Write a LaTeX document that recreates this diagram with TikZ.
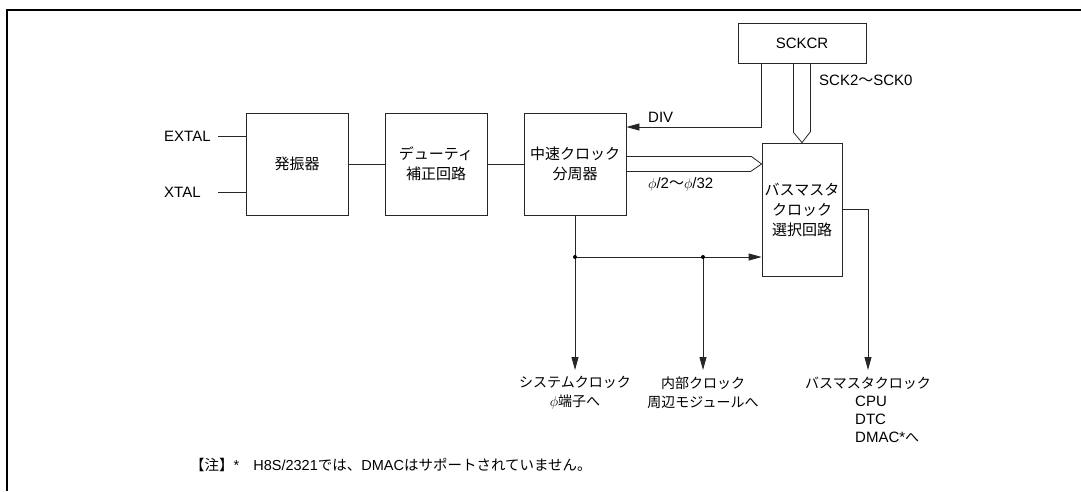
\documentclass[tikz,border=0pt]{standalone}
\usepackage{fontspec}
\setmainfont{Liberation Sans}
\newfontfamily\jp{Noto Sans CJK JP}
\usetikzlibrary{calc,arrows.meta}
\tikzset{
  blk/.style={draw=black!85, line width=0.8pt, inner sep=0pt, align=center,
    font=\jp\fontsize{15}{20}\selectfont},
  lbl/.style={inner sep=0pt, font=\fontsize{15}{18}\selectfont},
  jlbl/.style={inner sep=0pt, align=center, font=\jp\fontsize{14}{19}\selectfont},
  sig/.style={line width=0.8pt, black!85},
  arr/.style={sig, -{Triangle[length=13pt,width=7pt]}}
}

\begin{document}
\begin{tikzpicture}[x=1pt,y=-1pt]
    \useasboundingbox (0,0) rectangle (1081,491);
    \draw[line width=2pt] (7,491) -- (7,10) -- (1081,10);
    % blocks
    \node[blk, minimum width=102pt, minimum height=102pt] (osc) at (297,164) {発振器};
    \node[blk, minimum width=102pt, minimum height=102pt] (duty) at (436,164) {デューティ\\補正回路};
    \node[blk, minimum width=102pt, minimum height=102pt] (div) at (575,164) {中速クロック\\分周器};
    \node[blk, minimum width=128pt, minimum height=40pt, font=\fontsize{15}{18}\selectfont] (sckcr) at (802,43) {SCKCR};
    \node[blk, minimum width=80pt, minimum height=133pt] (bms) at (802,209.5) {バスマスタ\\クロック\\選択回路};
    % inputs
    \node[lbl, anchor=west] (extal) at (164,136) {EXTAL};
    \node[lbl, anchor=west] (xtal) at (164,192) {XTAL};
    \draw[sig] ([xshift=7pt]extal.east) -- (extal -| osc.west);
    \draw[sig] ([xshift=7pt]extal.east |- xtal) -- (xtal -| osc.west);
    \draw[sig] (osc) -- (duty);
    \draw[sig] (duty) -- (div);
    % DIV
    \draw[arr] (sckcr.south -| bms.west) |- ([yshift=37pt]div.east);
    \node[lbl, anchor=west] (divlbl) at (648,117) {DIV};
    % buses
    \draw[sig] ([xshift=-8.5pt]sckcr.south) -- ++(0,69) -- (bms.north) -- ++(8.5,-11) -- ([xshift=8.5pt]sckcr.south);
    \node[lbl, anchor=west] (scklbl) at (819,80) {SCK2{\jp 〜}SCK0};
    \draw[sig] ([yshift=7.5pt]div.east) -- ++(125,0) -- (div.east -| bms.west) -- ++(-11,7.5) -- ([yshift=-7.5pt]div.east);
    \node[lbl, anchor=west] (philbl) at (648,184) {$\phi$/2{\jp 〜}$\phi$/32};
    % clock outputs
    \coordinate (tap1) at (div.south |- 0,257);
    \coordinate (tap2) at (703,257);
    \coordinate (out1) at (div.south |- 0,370);
    \coordinate (out2) at (703,370);
    \coordinate (out3) at (868,370);
    \draw[arr] (div.south) -- (out1);
    \draw[arr] (tap1) -- (bms.west |- tap1);
    \draw[arr] (tap2) -- (out2);
    \draw[arr] (bms.east) -| (out3);
    \fill (tap1) circle (2pt);
    \fill (tap2) circle (2pt);
    \node[jlbl] (syslbl) at (575,392.5) {システムクロック\\{\fontspec{Liberation Sans}$\phi$}端子へ};
    \node[jlbl] (intlbl) at (703,392.5) {内部クロック\\周辺モジュールへ};
    \node[jlbl] (bmlbl) at (868,383) {バスマスタクロック};
    \node[lbl, anchor=west, align=left] (bmlist) at (855,419) {CPU\\DTC\\DMAC*{\jp\fontsize{14}{18}\selectfont へ}};
    % note
    \node[lbl, anchor=west, font=\fontsize{14.5}{18}\selectfont] (note) at (190,465)
      {{\jp 【注】}*\hspace{14pt}H8S/2321{\jp では、}DMAC{\jp はサポートされていません。}};
\end{tikzpicture}
\end{document}
